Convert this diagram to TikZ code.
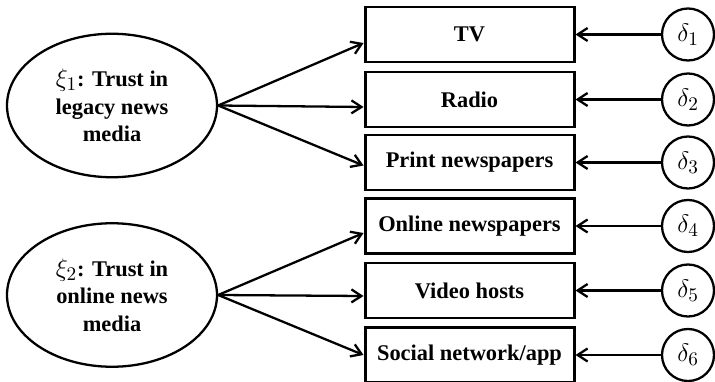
\documentclass[tikz,border=0pt]{standalone}
\usepackage{fontspec}
\setmainfont{Liberation Serif}
\usepackage{tikz}
\usetikzlibrary{arrows.meta,shapes.geometric}

\newcommand{\bigmath}[1]{{\fontsize{15}{15}\selectfont$#1$}}

\tikzset{
  latent/.style={draw,ellipse,line width=1.3pt,minimum width=4.2cm,minimum height=2.87cm,
    align=center,font=\fontsize{12.75}{15.6}\selectfont\bfseries,inner sep=0pt},
  indicator/.style={draw,rectangle,line width=1.7pt,minimum width=4.18cm,minimum height=1.1cm,
    inner sep=0pt,font=\fontsize{12.75}{15.6}\selectfont\bfseries},
  errterm/.style={draw,circle,line width=1.3pt,minimum size=1.04cm,inner sep=0pt,
    font=\fontsize{15}{15}\selectfont},
  load/.style={line width=1.3pt,-{Straight Barb[length=2mm,width=2.6mm,line width=1.3pt]}}
}

\begin{document}
\begin{tikzpicture}
\useasboundingbox (0,0) rectangle (14.3,7.62);

% Latent factors
\node[latent] (legacy) at (2.24,5.51) {\bigmath{\xi_1}: Trust in\\legacy news\\media};
\node[latent] (online) at (2.24,1.72) {\bigmath{\xi_2}: Trust in\\online news\\media};

% Observed indicators
\node[indicator] (tv) at (9.39,6.93) {TV};
\node[indicator] (radio) at (9.39,5.63) {Radio};
\node[indicator] (print) at (9.39,4.37) {Print newspapers};
\node[indicator] (onlinenews) at (9.39,3.10) {Online newspapers};
\node[indicator] (video) at (9.39,1.81) {Video hosts};
\node[indicator] (social) at (9.39,0.52) {Social network/app};

% Error terms
\node[errterm] (d1) at (13.76,6.93) {$\delta_1$};
\node[errterm] (d2) at (13.76,5.63) {$\delta_2$};
\node[errterm] (d3) at (13.76,4.37) {$\delta_3$};
\node[errterm] (d4) at (13.76,3.10) {$\delta_4$};
\node[errterm] (d5) at (13.76,1.81) {$\delta_5$};
\node[errterm] (d6) at (13.76,0.52) {$\delta_6$};

% Loadings
\draw[load] (legacy.east) -- ([yshift=-0.17cm]tv.west);
\draw[load] (legacy.east) -- ([yshift=-0.15cm]radio.west);
\draw[load] (legacy.east) -- ([yshift=-0.06cm]print.west);
\draw[load] (online.east) -- ([yshift=-0.14cm]onlinenews.west);
\draw[load] (online.east) -- ([yshift=-0.11cm]video.west);
\draw[load] (online.east) -- (social.west);

% Errors
\draw[load] (d1) -- (tv);
\draw[load] (d2) -- (radio);
\draw[load] (d3) -- (print);
\draw[load] (d4) -- (onlinenews);
\draw[load] (d5) -- (video);
\draw[load] (d6) -- (social);
\end{tikzpicture}
\end{document}
